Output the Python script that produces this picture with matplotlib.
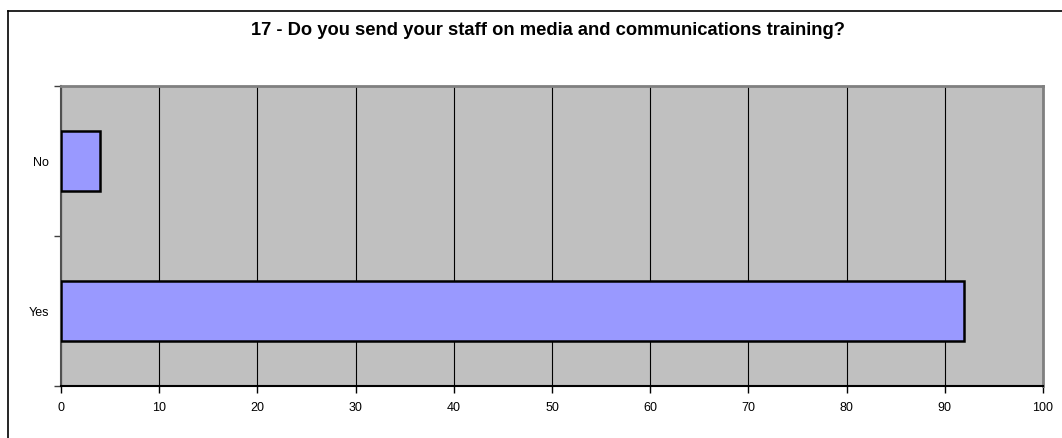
import matplotlib.pyplot as plt
from matplotlib.lines import Line2D

categories = ['Yes', 'No']
values = [92, 4]
xticks = [0, 10, 20, 30, 40, 50, 60, 70, 80, 90, 100]
title = '17 - Do you send your staff on media and communications training?'

plt.rcParams['font.family'] = ['Liberation Sans', 'DejaVu Sans']

fig = plt.figure(figsize=(10.62, 4.38), dpi=100)
W, H = 1062, 438
# plot area in pixels: left 61, right 1043, top 86, bottom 386
ax = fig.add_axes([61 / W, 1 - 386 / H, (1043 - 61) / W, (386 - 86) / H])

ax.set_facecolor('#C0C0C0')
ax.barh(range(len(categories)), values, height=0.4, color='#9999FF',
        edgecolor='black', linewidth=1.8, zorder=3)

ax.set_xlim(0, 100)
ax.set_ylim(-0.5, len(categories) - 0.5)
ax.set_xticks(xticks)
ax.set_xticklabels([str(t) for t in xticks], fontsize=9)
ax.set_yticks(range(len(categories)))
ax.set_yticklabels(categories, fontsize=9)
ax.tick_params(axis='y', length=0, pad=8.5)
ax.tick_params(axis='x', length=5, width=1, color='black', pad=6.5)
ax.set_yticks([-0.5, 0.5, 1.5], minor=True)
ax.tick_params(axis='y', which='minor', length=5, width=1, color='#404040')

ax.grid(axis='x', color='black', linewidth=0.8, zorder=1)
ax.set_axisbelow(True)

for side in ['top', 'right']:
    ax.spines[side].set_color('#808080')
    ax.spines[side].set_linewidth(2)
ax.spines['left'].set_color('#505050')
ax.spines['left'].set_linewidth(1.5)
ax.spines['bottom'].set_color('black')
ax.spines['bottom'].set_linewidth(1.5)

fig.text(548 / W, 1 - 28.5 / H, title, ha='center', va='center_baseline',
         fontsize=13.2, fontweight='bold')

# outer chart frame (top and left edges visible)
fig.add_artist(Line2D([8 / W, 1], [1 - 11 / H, 1 - 11 / H], color='black', linewidth=1.2))
fig.add_artist(Line2D([8 / W, 8 / W], [0, 1 - 11 / H], color='black', linewidth=1.2))

fig.savefig('out.png', dpi=100, facecolor='white')
